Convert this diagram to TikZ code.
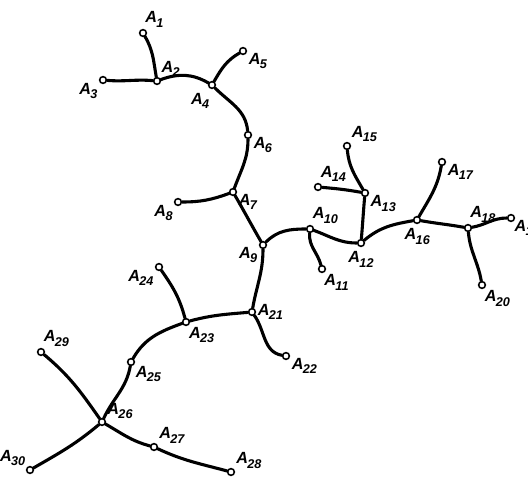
\documentclass[tikz,border=0pt]{standalone}
\usepackage{fontspec}
\setmainfont{Liberation Sans}
\newcommand{\an}[1]{A\kern-.04em\raisebox{-.5ex}{\small #1}}
\begin{document}
\begin{tikzpicture}[
  x=0.025cm, y=0.025cm,
  junc/.style={circle, draw, fill=white, line width=1.1pt, minimum size=4.8pt, inner sep=0pt},
  lbl/.style={font=\fontsize{11.5}{13}\selectfont\bfseries\itshape, inner sep=1pt},
  every label/.style={lbl},
  branch/.style={line width=2.2pt, line cap=round}
]
\useasboundingbox (0,0) rectangle (528,476);
\node[junc, label=80:\an{1}] (a1) at (143,443) {};
\node[junc, label=45:\an{2}] (a2) at (157,395) {};
\node[junc, label=200:\an{3}] (a3) at (103,396) {};
\node[junc, label={[label distance=2pt]260:\an{4}}] (a4) at (212,391) {};
\node[junc, label=350:\an{5}] (a5) at (243,425) {};
\node[junc, label=350:\an{6}] (a6) at (248,341) {};
\node[junc, label=355:\an{7}] (a7) at (233,284) {};
\node[junc, label=205:\an{8}] (a8) at (178,274) {};
\node[junc, label=190:\an{9}] (a9) at (263,231) {};
\node[junc, label=75:\an{10}] (a10) at (310,247) {};
\node[junc, label=280:\an{11}] (a11) at (322,207) {};
\node[junc, label={[label distance=2pt]270:\an{12}}] (a12) at (361,233) {};
\node[junc, label=345:\an{13}] (a13) at (365,283) {};
\node[junc, label=75:\an{14}] (a14) at (318,289) {};
\node[junc, label=40:\an{15}] (a15) at (347,330) {};
\node[junc, label={[label distance=2pt]272:\an{16}}] (a16) at (417,256) {};
\node[junc, label=355:\an{17}] (a17) at (442,314) {};
\node[junc, label=80:\an{18}] (a18) at (468,248) {};
\node[junc, label={[label distance=-1.5pt]345:\an{19}}] (a19) at (511,258) {};
\node[junc, label=285:\an{20}] (a20) at (482,191) {};
\node[junc, label=0:\an{21}] (a21) at (252,164) {};
\node[junc, label=350:\an{22}] (a22) at (286,120) {};
\node[junc, label=290:\an{23}] (a23) at (186,154) {};
\node[junc, label=200:\an{24}] (a24) at (159,209) {};
\node[junc, label=320:\an{25}] (a25) at (131,114) {};
\node[junc, label=25:\an{26}] (a26) at (102,54) {};
\node[junc, label=30:\an{27}] (a27) at (154,29) {};
\node[junc, label=30:\an{28}] (a28) at (231,4) {};
\node[junc, label=75:\an{29}] (a29) at (41,124) {};
\node[junc, label=140:\an{30}] (a30) at (30,6) {};
% upper part
\draw[branch] (a1) to[out=-60, in=100] (a2);
\draw[branch] (a3) to[out=-5, in=175] (a2);
\draw[branch] (a2) to[out=20, in=150] (a4);
\draw[branch] (a4) to[out=60, in=210] (a5);
\draw[branch] (a4) to[out=-45, in=95] (a6);
\draw[branch] (a6) to[out=-90, in=70] (a7);
\draw[branch] (a8) to[out=0, in=200] (a7);
\draw[branch] (a7) to[out=-60, in=120] (a9);
% right part
\draw[branch] (a9) to[out=45, in=180] (a10);
\draw[branch] (a10) to[out=-95, in=105] (a11);
\draw[branch] (a10) to[out=-20, in=180] (a12);
\draw[branch] (a12) to[out=85, in=-95] (a13);
\draw[branch] (a14) to[out=-5, in=170] (a13);
\draw[branch] (a13) to[out=120, in=-85] (a15);
\draw[branch] (a12) to[out=40, in=190] (a16);
\draw[branch] (a16) to[out=60, in=-100] (a17);
\draw[branch] (a16) to[out=-10, in=170] (a18);
\draw[branch] (a18) to[out=10, in=180] (a19);
\draw[branch] (a18) to[out=-85, in=100] (a20);
% lower part
\draw[branch] (a9) to[out=-90, in=80] (a21);
\draw[branch] (a21) to[out=-55, in=170] (a22);
\draw[branch] (a23) to[out=15, in=185] (a21);
\draw[branch] (a23) to[out=105, in=-55] (a24);
\draw[branch] (a23) to[out=200, in=60] (a25);
\draw[branch] (a25) to[out=-100, in=65] (a26);
\draw[branch] (a29) to[out=-40, in=125] (a26);
\draw[branch] (a26) to[out=-140, in=30] (a30);
\draw[branch] (a26) to[out=-30, in=165] (a27);
\draw[branch] (a27) to[out=-25, in=165] (a28);
\end{tikzpicture}
\end{document}
